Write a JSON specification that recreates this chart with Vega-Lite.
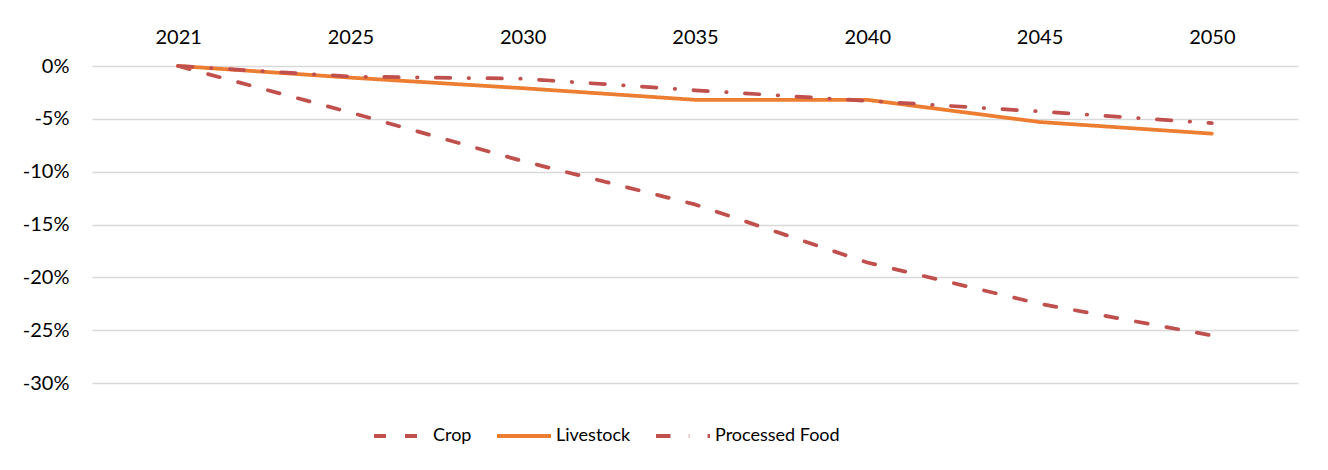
{
  "$schema": "https://vega.github.io/schema/vega-lite/v6.json",
  "width": 1206,
  "height": 317,
  "autosize": "none",
  "padding": {"left": 92, "top": 66, "right": 30, "bottom": 87},
  "background": "white",
  "data": {
    "values": [
      {"year": "2021", "series": "Crop", "value": 0},
      {"year": "2025", "series": "Crop", "value": -4.4},
      {"year": "2030", "series": "Crop", "value": -9.0},
      {"year": "2035", "series": "Crop", "value": -13.1},
      {"year": "2040", "series": "Crop", "value": -18.6},
      {"year": "2045", "series": "Crop", "value": -22.5},
      {"year": "2050", "series": "Crop", "value": -25.5},
      {"year": "2021", "series": "Livestock", "value": 0},
      {"year": "2025", "series": "Livestock", "value": -1.1},
      {"year": "2030", "series": "Livestock", "value": -2.1},
      {"year": "2035", "series": "Livestock", "value": -3.2},
      {"year": "2040", "series": "Livestock", "value": -3.2},
      {"year": "2045", "series": "Livestock", "value": -5.3},
      {"year": "2050", "series": "Livestock", "value": -6.4},
      {"year": "2021", "series": "Processed Food", "value": 0},
      {"year": "2025", "series": "Processed Food", "value": -1.0},
      {"year": "2030", "series": "Processed Food", "value": -1.2},
      {"year": "2035", "series": "Processed Food", "value": -2.3},
      {"year": "2040", "series": "Processed Food", "value": -3.3},
      {"year": "2045", "series": "Processed Food", "value": -4.3},
      {"year": "2050", "series": "Processed Food", "value": -5.4}
    ]
  },
  "mark": {"type": "line", "strokeWidth": 3.75, "strokeCap": "round", "strokeJoin": "round"},
  "encoding": {
    "x": {
      "field": "year",
      "type": "ordinal",
      "scale": {"type": "point", "padding": 0.5},
      "axis": {
        "orient": "top",
        "title": null,
        "labelAngle": 0,
        "domain": false,
        "ticks": false,
        "tickSize": 0,
        "grid": false,
        "labelFont": "Lato",
        "labelFontSize": 20,
        "labelColor": "#000000",
        "labelBaseline": "alphabetic",
        "labelPadding": 23
      }
    },
    "y": {
      "field": "value",
      "type": "quantitative",
      "scale": {"domain": [-30, 0], "nice": false, "zero": false},
      "axis": {
        "title": null,
        "values": [0, -5, -10, -15, -20, -25, -30],
        "labelExpr": "datum.value + '%'",
        "domain": false,
        "ticks": false,
        "tickSize": 0,
        "grid": true,
        "gridColor": "#D9D9D9",
        "gridWidth": 1.5,
        "labelFont": "Lato",
        "labelFontSize": 20,
        "labelColor": "#000000",
        "labelPadding": 23
      }
    },
    "color": {
      "field": "series",
      "type": "nominal",
      "title": null,
      "scale": {
        "domain": ["Crop", "Livestock", "Processed Food"],
        "range": ["#C0504D", "#ED7D31", "#C0504D"]
      },
      "legend": {
        "orient": "none",
        "legendX": 280,
        "legendY": 341,
        "direction": "horizontal",
        "symbolType": "stroke",
        "symbolSize": 2916,
        "symbolStrokeWidth": 4,
        "labelFont": "Lato",
        "labelFontSize": 18,
        "labelColor": "#000000",
        "labelOffset": 3,
        "columnPadding": 17,
        "padding": 0
      }
    },
    "strokeDash": {
      "field": "series",
      "type": "nominal",
      "title": null,
      "scale": {
        "domain": ["Crop", "Livestock", "Processed Food"],
        "range": [[12, 19], [1, 0], [14.5, 18.3, 0.5, 18.3]]
      }
    }
  },
  "config": {
    "view": {"stroke": null}
  }
}
